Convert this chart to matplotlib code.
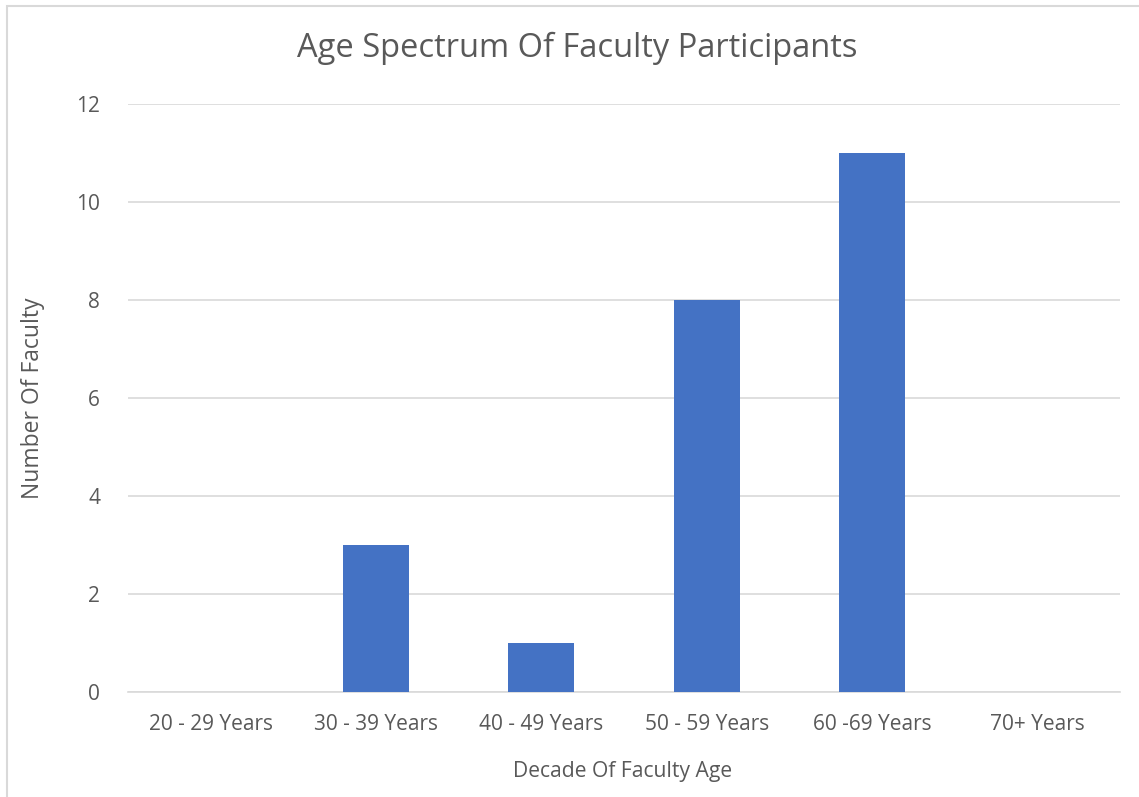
import matplotlib
matplotlib.use("Agg")
import matplotlib.pyplot as plt
from matplotlib.patches import Rectangle

categories = ["20 - 29 Years", "30 - 39 Years", "40 - 49 Years", "50 - 59 Years", "60 -69 Years", "70+ Years"]
counts = [0, 3, 1, 8, 11, 0]
yticks = [0, 2, 4, 6, 8, 10, 12]

W, H = 1139, 797
fig = plt.figure(figsize=(W / 100, H / 100), dpi=100)
plt.rcParams['font.family'] = ['Open Sans', 'DejaVu Sans']
text_color = "#595959"
grid_color = "#D9D9D9"

# chart border (top & left visible)
fig.patches.append(Rectangle((7 / W, -0.1), 1.2, 1 - 6 / H + 0.1, transform=fig.transFigure,
                             fill=False, edgecolor="#D9D9D9", linewidth=1.5))

ax = fig.add_axes([128 / W, 1 - 692 / H, (1120 - 128) / W, (692 - 104) / H])
x = list(range(len(categories)))
ax.bar(x, counts, width=0.4, color="#4472C4", zorder=3)
ax.set_xlim(-0.5, len(categories) - 0.5)
ax.set_ylim(0, 12)
ax.set_yticks(yticks)
ax.set_xticks(x)
ax.set_xticklabels(categories)
ax.yaxis.grid(True, color=grid_color, linewidth=1.2, zorder=0)
for s in ["top", "right", "left"]:
    ax.spines[s].set_visible(False)
ax.spines["bottom"].set_color(grid_color)
ax.spines["bottom"].set_linewidth(1.2)
ax.tick_params(axis="both", length=0, labelsize=15, colors=text_color)
ax.tick_params(axis="x", pad=16)
ax.tick_params(axis="y", pad=20)

fig.text(577 / W, 1 - 48 / H, "Age Spectrum Of Faculty Participants",
         ha="center", va="center", fontsize=23.5, color=text_color)
fig.text(623 / W, 1 - 771 / H, "Decade Of Faculty Age",
         ha="center", va="center", fontsize=15.2, color=text_color)
fig.text(33 / W, 1 - 398 / H, "Number Of Faculty", rotation=90,
         ha="center", va="center", fontsize=16.5, color=text_color)

fig.savefig("out.png", dpi=100)
